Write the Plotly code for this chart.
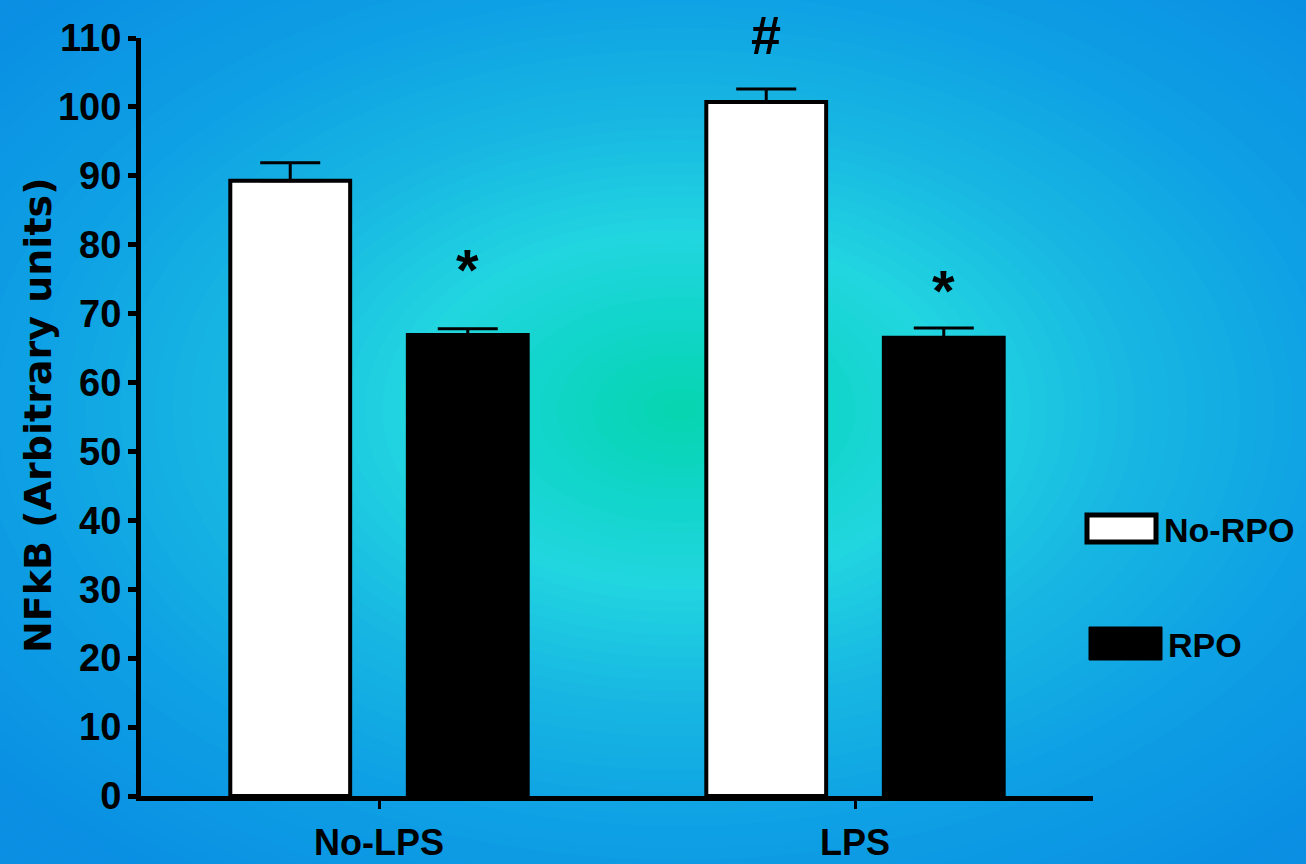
import plotly.graph_objects as go

# ---------------- data ----------------
categories = ["No-LPS", "LPS"]
no_rpo_values = [89.3, 100.7]
no_rpo_err = [2.6, 1.9]
rpo_values = [66.9, 66.5]
rpo_err = [0.9, 1.4]
series_names = ["No-RPO", "RPO"]
sig_labels = ["*", "#", "*"]           # significance marks
sig_category = [0, 1, 1]               # category index of each mark
sig_series = [1, 0, 1]                 # 0 = No-RPO bar, 1 = RPO bar
sig_y = [77.6, 110.4, 74.5]            # vertical position (data units)
y_ticks = [0, 10, 20, 30, 40, 50, 60, 70, 80, 90, 100, 110]
y_title = "NFkB (Arbitrary units)"

# ---------------- layout geometry ----------------
W, H = 1306, 864
L, R, T, B = 141, 213, 38, 68
PW, PH = W - L - R, H - T - B
YMAX = 110
BARGAP = 0.254
BARGROUPGAP = 0.325

def px_x(px):
    return (px - L) / PW

def px_y(py):
    return (H - B - py) / PH

FONT = "Liberation Sans Narrow, Arial Narrow, Liberation Sans, Arial"
WIDE = "DejaVu Sans, Verdana, sans-serif"

fig = go.Figure()
fig.add_trace(go.Bar(
    x=categories, y=no_rpo_values, name=series_names[0],
    marker=dict(color="white", line=dict(color="black", width=4)),
    error_y=dict(type="data", symmetric=False, array=no_rpo_err,
                 arrayminus=[0] * len(no_rpo_err), color="black",
                 thickness=3, width=30),
))
fig.add_trace(go.Bar(
    x=categories, y=rpo_values, name=series_names[1],
    marker=dict(color="black", line=dict(color="black", width=4)),
    error_y=dict(type="data", symmetric=False, array=rpo_err,
                 arrayminus=[0] * len(rpo_err), color="black",
                 thickness=3, width=30),
))

# ---------------- radial gradient background ----------------
stops = [(0.0, (6, 213, 174)), (0.2, (16, 213, 200)), (0.4, (34, 214, 224)),
         (0.65, (24, 184, 226)), (0.95, (14, 160, 228)), (1.3, (10, 143, 227)),
         (2.0, (9, 140, 227))]

def grad(r):
    for (r0, c0), (r1, c1) in zip(stops[:-1], stops[1:]):
        if r0 <= r <= r1:
            t = (r - r0) / (r1 - r0)
            c = [round(a + (b - a) * t) for a, b in zip(c0, c1)]
            return "rgb(%d,%d,%d)" % tuple(c)
    return "rgb(%d,%d,%d)" % stops[-1][1]

CX, CY, RX, RY = 680, 410, 700, 450
shapes = []
n = 64
for i in range(n):
    r = 1.6 * (n - i) / n
    shapes.append(dict(
        type="circle", xref="paper", yref="paper", layer="below",
        x0=px_x(CX - RX * r), x1=px_x(CX + RX * r),
        y0=px_y(CY + RY * r), y1=px_y(CY - RY * r),
        fillcolor=grad(r), line=dict(width=0),
    ))

# ---------------- custom legend ----------------
shapes.append(dict(type="rect", xref="paper", yref="paper",
                   x0=px_x(1087), x1=px_x(1156), y0=px_y(542), y1=px_y(515),
                   fillcolor="white", line=dict(color="black", width=5)))
shapes.append(dict(type="rect", xref="paper", yref="paper",
                   x0=px_x(1089), x1=px_x(1162), y0=px_y(660), y1=px_y(627),
                   fillcolor="black", line=dict(color="black", width=1)))

annotations = [
    dict(text=series_names[0], xref="paper", yref="paper", x=px_x(1162), y=px_y(530),
         xanchor="left", yanchor="middle", showarrow=False,
         font=dict(family=FONT, size=34, color="black", weight="bold")),
    dict(text=series_names[1], xref="paper", yref="paper", x=px_x(1166), y=px_y(645),
         xanchor="left", yanchor="middle", showarrow=False,
         font=dict(family=FONT, size=34, color="black", weight="bold")),
    # y-axis title
    dict(text=y_title, xref="paper", yref="paper", x=px_x(38), y=px_y(415),
         xanchor="center", yanchor="middle", textangle=-90, showarrow=False,
         font=dict(family=WIDE, size=38, color="black", weight="bold")),
]

# significance marks over bars
slot = (1 - BARGAP) / 2
for lab, ci, si, yv in zip(sig_labels, sig_category, sig_series, sig_y):
    xpos = ci + (si - 0.5) * slot
    ya = min(yv, YMAX)
    extra = (yv - ya) * PH / YMAX
    annotations.append(dict(
        text=lab, x=xpos, y=ya, xref="x", yref="y", showarrow=False,
        xanchor="center", yanchor="middle",
        yshift=extra + (-8 if lab == "*" else 0),
        font=dict(family=FONT, size=58 if lab == "*" else 54, color="black", weight="bold"),
    ))

fig.update_layout(
    width=W, height=H,
    margin=dict(l=L, r=R, t=T, b=B, autoexpand=False),
    paper_bgcolor="rgb(10,143,227)",
    plot_bgcolor="rgba(0,0,0,0)",
    barmode="group", bargap=BARGAP, bargroupgap=BARGROUPGAP,
    showlegend=False,
    shapes=shapes,
    annotations=annotations,
    xaxis=dict(
        type="category", range=[-0.5, 1.5],
        showline=True, linecolor="black", linewidth=5,
        ticks="outside", ticklen=8, tickwidth=3, tickcolor="black",
        showgrid=False, zeroline=False, ticklabelstandoff=3,
        tickfont=dict(family=FONT, size=36, color="black", weight="bold"),
    ),
    yaxis=dict(
        range=[0, YMAX], tickvals=y_ticks,
        showline=True, linecolor="black", linewidth=5,
        ticks="outside", ticklen=8, tickwidth=5, tickcolor="black",
        showgrid=False, zeroline=False, ticklabelstandoff=-1,
        tickfont=dict(family=FONT, size=38, color="black", weight="bold"),
    ),
)

fig.write_html("out.html", config={"displayModeBar": False},
               post_script="document.body.style.margin='0';document.body.style.padding='0';")
